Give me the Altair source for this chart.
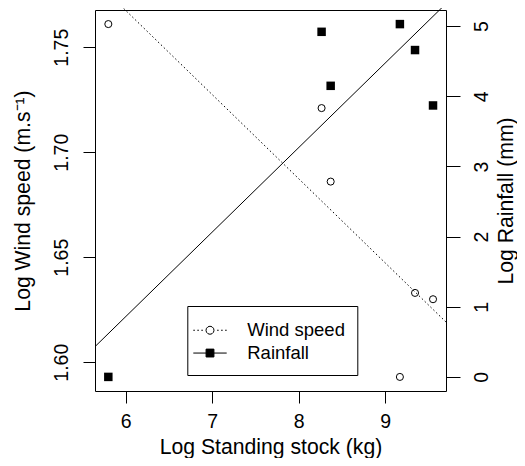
import altair as alt
import pandas as pd

# ---- data ----
stock = [5.80, 8.265, 8.37, 9.17, 9.345, 9.553]
wind_speed = [1.761, 1.721, 1.686, 1.593, 1.633, 1.630]
rainfall = [0.00, 4.92, 4.15, 5.03, 4.66, 3.87]
series_names = ["Wind speed", "Rainfall"]
x_ticks = [6, 7, 8, 9]
wind_ticks = [1.60, 1.65, 1.70, 1.75]
rain_ticks = [0, 1, 2, 3, 4, 5]

df = pd.DataFrame({"stock": stock, "wind": wind_speed, "rain": rainfall})
leg_df = pd.DataFrame({"series": series_names})

FONT = "Liberation Sans"
X_DOMAIN = [5.646, 9.703]
WIND_DOMAIN = [1.5863, 1.7677]
RAIN_DOMAIN = [-0.201, 5.231]

# legend symbols: dotted line + open circle, solid line + filled square
WIND_PATH = ("M-2,0H-1.81M-1.52,0H-1.33M-1.04,0H-0.85"
             "M0.85,0H1.04M1.33,0H1.52M1.81,0H2"
             "M0.48,0L0.416,0.24L0.24,0.416L0,0.48L-0.24,0.416L-0.416,0.24"
             "L-0.48,0L-0.416,-0.24L-0.24,-0.416L0,-0.48L0.24,-0.416L0.416,-0.24Z")
RAIN_PATH = "M-2,0H2M-0.47,-0.47H0.47V0.47H-0.47Z"

x_axis = alt.Axis(values=x_ticks, format="d", title="Log Standing stock (kg)",
                  tickSize=12, labelPadding=9, labelFlush=False, labelAngle=0,
                  titleX=175.5, titleY=62.5, titleAlign="center",
                  titleBaseline="alphabetic")
x_enc = alt.X("stock:Q", scale=alt.Scale(domain=X_DOMAIN, nice=False, zero=False),
              axis=x_axis)

wind_axis = alt.Axis(orient="left", values=wind_ticks, format=".2f",
                     title="Log Wind speed (m.s\u207b\u00b9)", tickSize=12,
                     labelAngle=270, labelAlign="center", labelBaseline="alphabetic",
                     labelPadding=15.5, titleAngle=270, titleX=-66, titleY=190.5,
                     titleAlign="center", titleBaseline="alphabetic")
wind_y = alt.Y("wind:Q", scale=alt.Scale(domain=WIND_DOMAIN, nice=False, zero=False),
               axis=wind_axis)

rain_axis = alt.Axis(orient="right", values=rain_ticks, format="d",
                     title="Log Rainfall (mm)", tickSize=14,
                     labelAngle=270, labelAlign="center", labelBaseline="alphabetic",
                     labelPadding=27, titleAngle=270, titleX=66, titleY=190.5,
                     titleAlign="center", titleBaseline="alphabetic")
rain_y = alt.Y("rain:Q", scale=alt.Scale(domain=RAIN_DOMAIN, nice=False, zero=False),
               axis=rain_axis)

base = alt.Chart(df)

wind_line = base.transform_regression(
    "stock", "wind", extent=X_DOMAIN
).mark_line(color="black", strokeWidth=1, strokeDash=[1.5, 2.5]).encode(x=x_enc, y=wind_y)
wind_pts = base.mark_point(shape="circle", filled=False, color="black", size=50,
                           strokeWidth=1, opacity=1).encode(x=x_enc, y=wind_y)

rain_line = base.transform_regression(
    "stock", "rain", extent=X_DOMAIN
).mark_line(color="black", strokeWidth=1).encode(x=x_enc, y=rain_y)
rain_pts = base.mark_point(shape="square", filled=True, color="black", size=72,
                           opacity=1).encode(x=x_enc, y=rain_y)

legend_props = dict(
    title=" ", titleFontSize=1, titlePadding=2,
    orient="none", legendX=92.3, legendY=296,
    padding=12, strokeColor="black", fillColor="white",
    labelFont=FONT, labelFontSize=18.5, labelColor="black",
    symbolSize=279, symbolStrokeWidth=1, symbolStrokeColor="black",
    symbolOffset=1.45, labelOffset=28, rowPadding=3.8, symbolOpacity=1,
)
legend_layer = alt.Chart(leg_df).mark_point(
    filled=True, opacity=0, strokeWidth=1
).encode(
    shape=alt.Shape("series:N",
                    scale=alt.Scale(domain=series_names, range=[WIND_PATH, RAIN_PATH]),
                    legend=alt.Legend(**legend_props)),
    fill=alt.Fill("series:N",
                  scale=alt.Scale(domain=series_names, range=["white", "black"]),
                  legend=alt.Legend(**legend_props)),
    stroke=alt.Stroke("series:N",
                      scale=alt.Scale(domain=series_names, range=["black", "black"]),
                      legend=alt.Legend(**legend_props)),
)

wind_layer = alt.layer(wind_line, wind_pts)
rain_layer = alt.layer(rain_line, rain_pts)

chart = alt.layer(wind_layer, rain_layer, legend_layer).resolve_scale(
    y="independent"
).properties(
    width=351, height=381,
    background="white",
    autosize=alt.AutoSizeParams(type="none"),
    padding={"left": 87, "top": 2, "right": 71, "bottom": 67},
).configure_view(
    stroke="black", strokeWidth=1
).configure_axis(
    grid=False, domain=False, tickColor="black", tickWidth=1,
    labelColor="black", titleColor="black", labelFont=FONT, titleFont=FONT,
    labelFontSize=19.5, titleFontSize=21.2, titleFontWeight="normal",
    labelOverlap=False,
)

chart.save("out.html", embed_options={"renderer": "svg", "actions": False})
